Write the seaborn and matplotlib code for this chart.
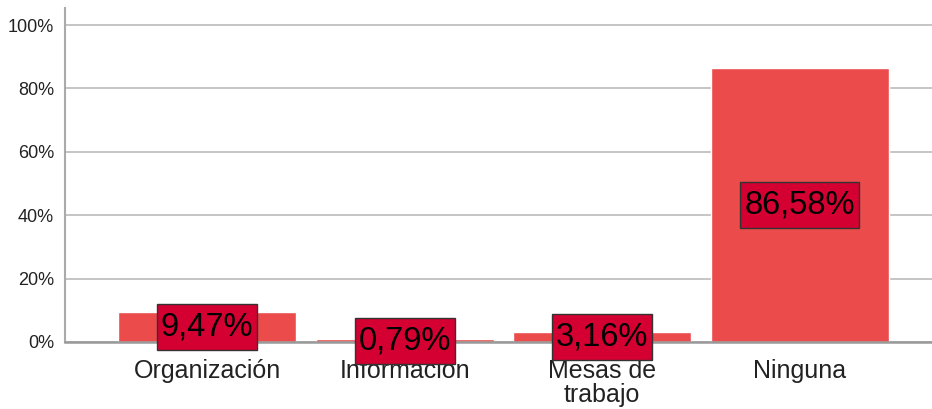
import matplotlib
matplotlib.use("Agg")
import matplotlib.pyplot as plt
import matplotlib.patches as mpatches
import seaborn as sns
import pandas as pd

# data
categories = ["Organización", "Información", "Mesas de\ntrabajo", "Ninguna"]
percent = [9.47, 0.79, 3.16, 86.58]
labels = ["9,47%", "0,79%", "3,16%", "86,58%"]

sns.set_style("white")
plt.rcParams['font.family'] = ['Liberation Sans', 'DejaVu Sans']

df = pd.DataFrame({"cat": categories, "pct": percent})

fig = plt.figure(figsize=(9.32, 4.09), dpi=100)
ax = fig.add_axes([65 / 932, 67 / 409, 1 - 65 / 932, 334 / 409])

sns.barplot(data=df, x="cat", y="pct", color="#EC4B4B", saturation=1,
            width=0.9, ax=ax, zorder=2)

ax.set_ylim(0, 105.4)
ax.set_xlim(-0.72, 3.67)
ax.set_yticks([0, 20, 40, 60, 80, 100])
ax.set_yticklabels([f"{t}%" for t in [0, 20, 40, 60, 80, 100]], fontsize=13, color="#222222")
ax.tick_params(axis="x", labelsize=18, colors="#222222", length=0, pad=12)
ax.tick_params(axis="y", length=0, pad=8)
for lbl in ax.get_xticklabels():
    lbl.set_linespacing(1.0)
ax.set_xlabel("")
ax.set_ylabel("")

ax.yaxis.grid(True, color="#BBBBBB", linewidth=1.2, zorder=0)
ax.set_axisbelow(True)
for s in ["top", "right"]:
    ax.spines[s].set_visible(False)
ax.spines["left"].set_color("#AAAAAA")
ax.spines["left"].set_linewidth(1.5)
ax.spines["bottom"].set_color("#999999")
ax.spines["bottom"].set_linewidth(1.8)
ax.spines["bottom"].set_zorder(3)

# value labels with a tall crimson box behind them
texts = []
for i, (v, t) in enumerate(zip(percent, labels)):
    texts.append(ax.text(i, v / 2, t, ha="center", va="center", fontsize=23.5,
                         color="black", zorder=6, clip_on=False))

fig.canvas.draw()
renderer = fig.canvas.get_renderer()
inv = fig.transFigure.inverted()
for txt in texts:
    bb = txt.get_window_extent(renderer)
    cx = (bb.x0 + bb.x1) / 2
    cy = (bb.y0 + bb.y1) / 2
    w = bb.width + 8
    h = 46
    (x0, y0) = inv.transform((cx - w / 2, cy - h / 2))
    (x1, y1) = inv.transform((cx + w / 2, cy + h / 2))
    rect = mpatches.Rectangle((x0, y0), x1 - x0, y1 - y0, transform=fig.transFigure,
                              facecolor="#D50032", edgecolor="#333333",
                              linewidth=1, zorder=5)
    fig.patches.append(rect)
    # keep text above the figure-level rectangles
    txt.remove()
    fig.text(cx / fig.bbox.width, cy / fig.bbox.height, txt.get_text(),
             ha="center", va="center", fontsize=23.5, color="black", zorder=7)

fig.savefig("out.png", dpi=100)
